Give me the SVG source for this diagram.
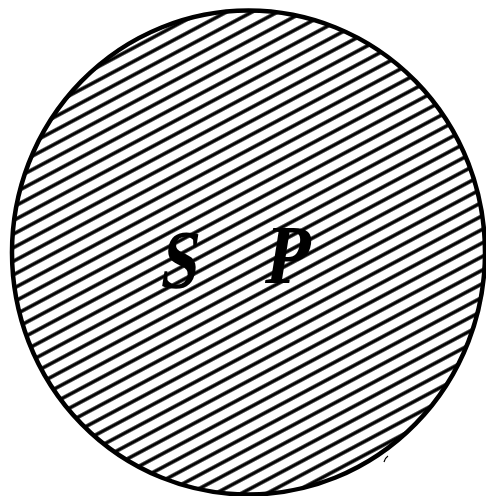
<svg xmlns="http://www.w3.org/2000/svg" width="486" height="496" viewBox="0 0 486 496">
  <defs>
    <pattern id="hatch" patternUnits="userSpaceOnUse" width="40" height="12" patternTransform="rotate(-28 248 252)">
      <line x1="0" y1="6" x2="40" y2="6" stroke="#000" stroke-width="3.6"/>
    </pattern>
  </defs>
  <style>
    .label { font-family: "Liberation Serif", "DejaVu Serif", serif; font-weight: bold; font-size: 84px; fill: #000; text-anchor: middle; }
  </style>
  <rect width="486" height="496" fill="#fff"/>
  <g id="disc-node">
    <ellipse cx="248.5" cy="252.5" rx="236.5" ry="242" fill="url(#hatch)"/>
    <ellipse cx="248.5" cy="252.5" rx="236.5" ry="242" fill="none" stroke="#000" stroke-width="4.5"/>
    <path d="M384 462 q1 -4 4 -6" fill="none" stroke="#000" stroke-width="1.2"/>
  </g>
  <g id="labels">
    <text class="label" transform="translate(177 288) skewX(-9) scale(0.8 1)">S</text>
    <text class="label" transform="translate(285 283) skewX(-9) scale(0.85 1)">P</text>
  </g>
</svg>
